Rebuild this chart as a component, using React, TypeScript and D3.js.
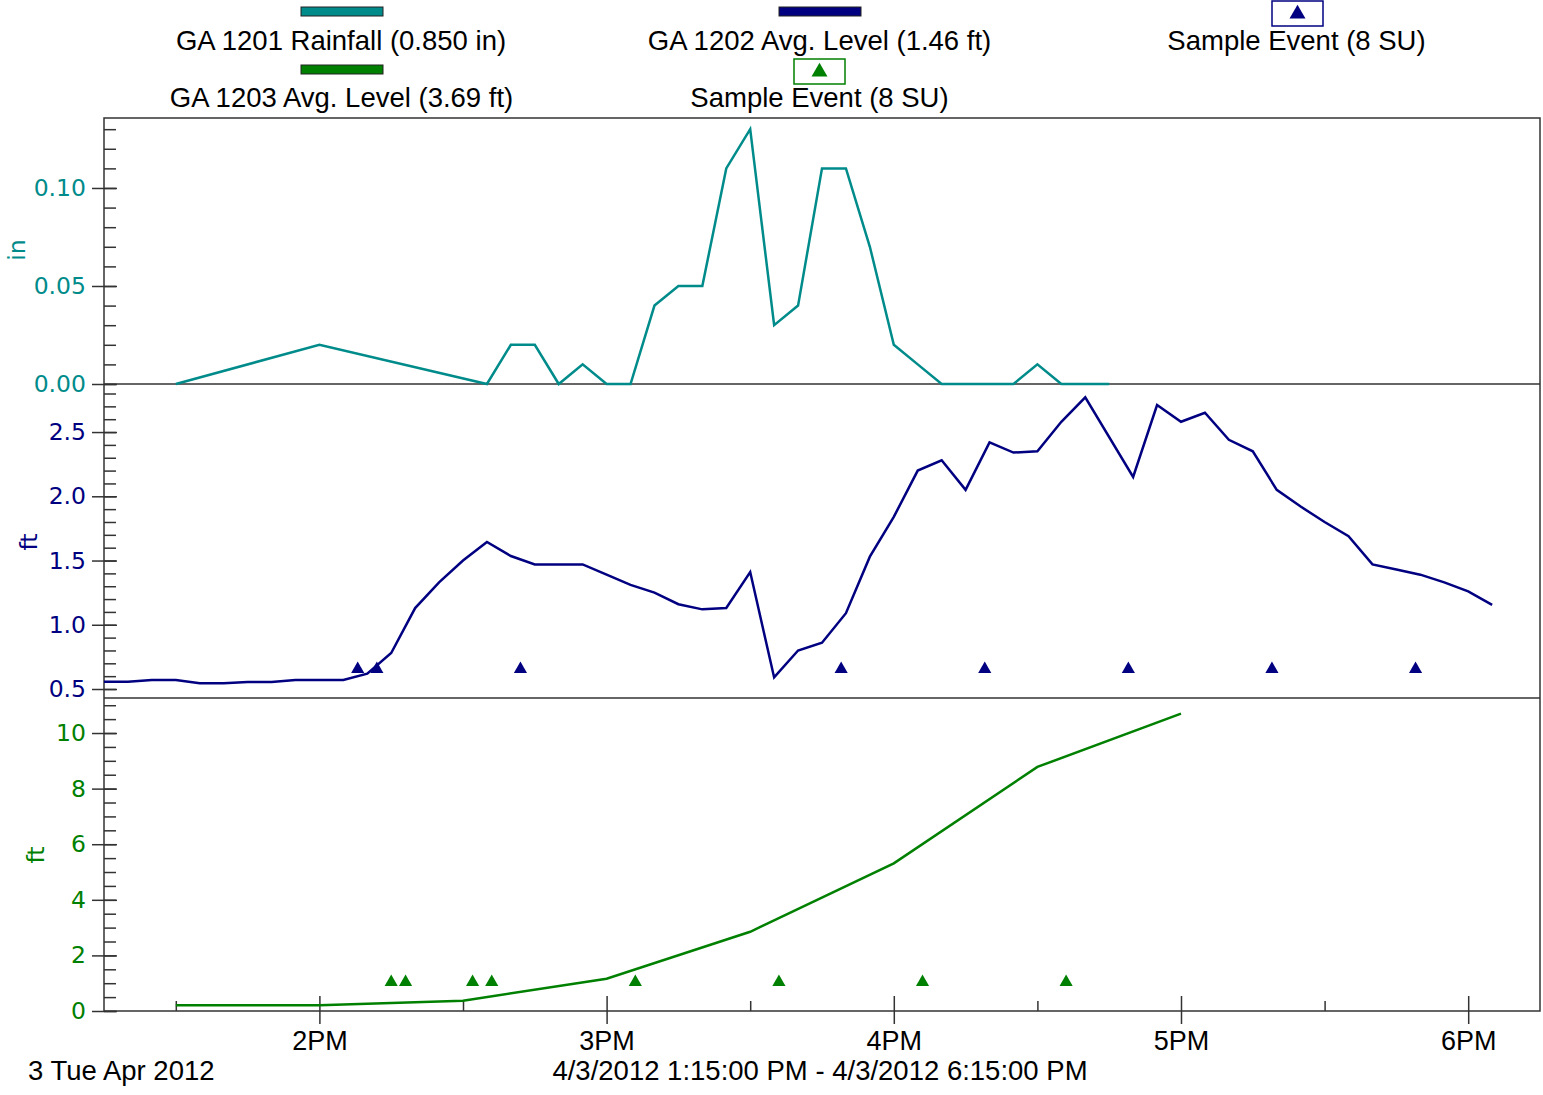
import * as d3 from "d3";
import { useEffect, useRef } from "react";

// chart size
const width = 1543;
const height = 1095;

// GA 1201 rainfall (in)
const rainTimes = ["13:30", "14:00", "14:35", "14:40", "14:45", "14:50", "14:55", "15:00", "15:05", "15:10", "15:15", "15:20", "15:25", "15:30", "15:35", "15:40", "15:45", "15:50", "15:55", "16:00", "16:05", "16:10", "16:15", "16:20", "16:25", "16:30", "16:35", "16:40", "16:45"];
const rainValues = [0, 0.02, 0, 0.02, 0.02, 0, 0.01, 0, 0, 0.04, 0.05, 0.05, 0.11, 0.13, 0.03, 0.04, 0.11, 0.11, 0.07, 0.02, 0.01, 0, 0, 0, 0, 0.01, 0, 0, 0];

// GA 1202 avg level (ft)
const level1202Times = ["13:15", "13:20", "13:25", "13:30", "13:35", "13:40", "13:45", "13:50", "13:55", "14:00", "14:05", "14:10", "14:15", "14:20", "14:25", "14:30", "14:35", "14:40", "14:45", "14:50", "14:55", "15:00", "15:05", "15:10", "15:15", "15:20", "15:25", "15:30", "15:35", "15:40", "15:45", "15:50", "15:55", "16:00", "16:05", "16:10", "16:15", "16:20", "16:25", "16:30", "16:35", "16:40", "16:50", "16:55", "17:00", "17:05", "17:10", "17:15", "17:20", "17:25", "17:30", "17:35", "17:40", "17:45", "17:50", "17:55", "18:00", "18:05"];
const level1202Values = [0.556, 0.556, 0.57, 0.57, 0.545, 0.545, 0.555, 0.555, 0.57, 0.57, 0.57, 0.62, 0.78, 1.13, 1.33, 1.5, 1.645, 1.535, 1.47, 1.47, 1.47, 1.39, 1.31, 1.25, 1.16, 1.12, 1.13, 1.41, 0.59, 0.8, 0.86, 1.09, 1.53, 1.84, 2.2, 2.28, 2.05, 2.42, 2.34, 2.35, 2.58, 2.77, 2.15, 2.71, 2.58, 2.65, 2.44, 2.35, 2.05, 1.92, 1.8, 1.69, 1.47, 1.43, 1.39, 1.33, 1.26, 1.155];

// GA 1203 avg level (ft)
const level1203Times = ["13:30", "14:00", "14:30", "15:00", "15:30", "16:00", "16:30", "17:00"];
const level1203Values = [0.21, 0.21, 0.37, 1.16, 2.85, 5.31, 8.78, 10.7];

// sample events (8 SU each)
const sample1202Times = ["14:08", "14:12", "14:42", "15:49", "16:19", "16:49", "17:19", "17:49"];
const sample1203Times = ["14:15", "14:18", "14:32", "14:36", "15:06", "15:36", "16:06", "16:36"];
const sample1202Level = 0.655;
const sample1203Level = 1.04;

const legendRow1 = ["GA 1201 Rainfall (0.850 in)", "GA 1202 Avg. Level (1.46 ft)", "Sample Event (8 SU)"];
const legendRow2 = ["GA 1203 Avg. Level (3.69 ft)", "Sample Event (8 SU)"];

const TEAL = "#008b8b";
const NAVY = "#000080";
const GREEN = "#008000";
const AXIS = "#333";
const SANS = "'Liberation Sans', Arial, sans-serif";
const WIDE = "'DejaVu Sans', Verdana, sans-serif";

const parse = d3.timeParse("%Y-%m-%d %H:%M");
const toDate = (t: string) => parse("2012-04-03 " + t) as Date;

const App = () => {
  const ref = useRef<SVGSVGElement>(null);

  useEffect(() => {
    const svg = d3.select(ref.current);
    svg.selectAll("*").remove();

    const left = 104, right = 1540, top = 118, bottom = 1011;
    const div1 = 384, div2 = 698;

    const x = d3.scaleTime()
      .domain([toDate("13:15"), toDate("18:15")])
      .range([left, right]);

    const yRain = d3.scaleLinear().domain([0, 0.1357]).range([div1, top]);
    const y1202 = d3.scaleLinear().domain([0.43, 2.874]).range([div2, div1]);
    const y1203 = d3.scaleLinear().domain([0, 11.26]).range([bottom, div2]);

    svg.append("rect").attr("width", width).attr("height", height).attr("fill", "#fff");

    // y axes
    const panels = [
      { y: yRain, color: TEAL, major: [0, 0.05, 0.1], minor: d3.range(0, 14).map(i => i / 100), fmt: d3.format(".2f"), unit: "in", ux: 17, uy: 250 },
      { y: y1202, color: NAVY, major: [0.5, 1, 1.5, 2, 2.5], minor: d3.range(5, 29).map(i => i / 10), fmt: d3.format(".1f"), unit: "ft", ux: 29, uy: 542 },
      { y: y1203, color: GREEN, major: [0, 2, 4, 6, 8, 10], minor: d3.range(0, 23).map(i => i / 2), fmt: d3.format("d"), unit: "ft", ux: 36, uy: 855 },
    ];

    panels.forEach(p => {
      svg.append("g")
        .attr("transform", `translate(${left},0)`)
        .call(d3.axisRight(p.y).tickValues(p.minor).tickSize(12).tickFormat(() => ""))
        .call(g => g.select(".domain").remove())
        .call(g => g.selectAll(".tick line").attr("stroke", AXIS).attr("stroke-width", 1.5));

      svg.append("g")
        .attr("transform", `translate(${left},0)`)
        .call(d3.axisLeft(p.y).tickValues(p.major).tickSize(12).tickPadding(6).tickFormat(p.fmt as any))
        .attr("font-family", WIDE)
        .attr("font-size", 23.5)
        .call(g => g.select(".domain").remove())
        .call(g => g.selectAll(".tick line").attr("x1", 13).attr("stroke", AXIS).attr("stroke-width", 1.5))
        .call(g => g.selectAll(".tick text").attr("fill", p.color));

      svg.append("text")
        .attr("transform", `translate(${p.ux},${p.uy}) rotate(-90)`)
        .attr("text-anchor", "middle")
        .attr("dominant-baseline", "central")
        .attr("font-family", WIDE)
        .attr("font-size", 23.5)
        .attr("fill", p.color)
        .text(p.unit);
    });

    // x axis
    svg.append("g")
      .attr("transform", `translate(0,${bottom})`)
      .call(d3.axisBottom(x).ticks(d3.timeHour.every(1)).tickSize(13).tickPadding(7).tickFormat(d3.timeFormat("%-I%p") as any))
      .attr("font-family", SANS)
      .attr("font-size", 27)
      .call(g => g.select(".domain").remove())
      .call(g => g.selectAll(".tick line").attr("y1", -15).attr("stroke", AXIS).attr("stroke-width", 1.5))
      .call(g => g.selectAll(".tick text").attr("fill", "#000"));

    const halfHours = d3.timeMinute.every(30)!.range(toDate("13:15"), toDate("18:15")).filter(d => d.getMinutes() === 30);
    svg.append("g")
      .attr("transform", `translate(0,${bottom})`)
      .call(d3.axisTop(x).tickValues(halfHours).tickSize(10).tickFormat(() => ""))
      .call(g => g.select(".domain").remove())
      .call(g => g.selectAll(".tick line").attr("stroke", AXIS).attr("stroke-width", 1.5));

    // frame and panel dividers
    svg.append("rect")
      .attr("x", left).attr("y", top)
      .attr("width", right - left).attr("height", bottom - top)
      .attr("fill", "none").attr("stroke", AXIS).attr("stroke-width", 1.5);
    [div1, div2].forEach(yy => {
      svg.append("line")
        .attr("x1", left).attr("x2", right).attr("y1", yy).attr("y2", yy)
        .attr("stroke", AXIS).attr("stroke-width", 1.5);
    });

    // series
    const series = [
      { times: rainTimes, values: rainValues, y: yRain, color: TEAL },
      { times: level1202Times, values: level1202Values, y: y1202, color: NAVY },
      { times: level1203Times, values: level1203Values, y: y1203, color: GREEN },
    ];
    series.forEach(s => {
      const line = d3.line<number>()
        .x((_, i) => x(toDate(s.times[i])))
        .y(v => s.y(v));
      svg.append("path")
        .attr("d", line(s.values))
        .attr("fill", "none")
        .attr("stroke", s.color)
        .attr("stroke-width", 2.5)
        .attr("stroke-linejoin", "miter");
    });

    // sample events
    const tri = d3.symbol().type(d3.symbolTriangle).size(75);
    const events = [
      { times: sample1202Times, level: sample1202Level, y: y1202, color: NAVY },
      { times: sample1203Times, level: sample1203Level, y: y1203, color: GREEN },
    ];
    events.forEach(e => {
      svg.append("g").selectAll("path")
        .data(e.times)
        .join("path")
        .attr("transform", t => `translate(${x(toDate(t))},${e.y(e.level)})`)
        .attr("d", tri())
        .attr("fill", e.color);
    });

    // legend
    const leg = svg.append("g")
      .attr("font-family", SANS)
      .attr("font-size", 27.5)
      .attr("fill", "#000")
      .attr("text-anchor", "middle");

    const swatch = (cx: number, yy: number, color: string) => {
      leg.append("rect")
        .attr("x", cx - 41).attr("y", yy).attr("width", 82).attr("height", 9)
        .attr("fill", color).attr("stroke", "#222").attr("stroke-width", 1);
    };
    const boxed = (cx: number, yy: number, color: string) => {
      leg.append("rect")
        .attr("x", cx - 25.5).attr("y", yy).attr("width", 51).attr("height", 25)
        .attr("fill", "#fff").attr("stroke", color).attr("stroke-width", 1.5);
      leg.append("path")
        .attr("transform", `translate(${cx},${yy + 13})`)
        .attr("d", d3.symbol().type(d3.symbolTriangle).size(110)())
        .attr("fill", color);
    };

    swatch(342, 7, TEAL);
    swatch(820, 7, NAVY);
    boxed(1297.5, 1, NAVY);
    swatch(342, 65, GREEN);
    boxed(819.5, 59, GREEN);

    leg.append("text").attr("x", 341).attr("y", 50).text(legendRow1[0]);
    leg.append("text").attr("x", 819.5).attr("y", 50).text(legendRow1[1]);
    leg.append("text").attr("x", 1296.5).attr("y", 50).text(legendRow1[2]);
    leg.append("text").attr("x", 341.5).attr("y", 107).text(legendRow2[0]);
    leg.append("text").attr("x", 819.5).attr("y", 107).text(legendRow2[1]);

    // footer
    svg.append("text")
      .attr("x", 28).attr("y", 1080)
      .attr("font-family", SANS)
      .attr("font-size", 27.5)
      .text("3 Tue Apr 2012");
    svg.append("text")
      .attr("x", 820).attr("y", 1080)
      .attr("text-anchor", "middle")
      .attr("font-family", SANS)
      .attr("font-size", 27.5)
      .text("4/3/2012 1:15:00 PM - 4/3/2012 6:15:00 PM");
  }, []);

  return (
    <svg
      ref={ref}
      width={width}
      height={height}
      style={{ position: "absolute", left: 0, top: 0 }}
    />
  );
};

export default App;
